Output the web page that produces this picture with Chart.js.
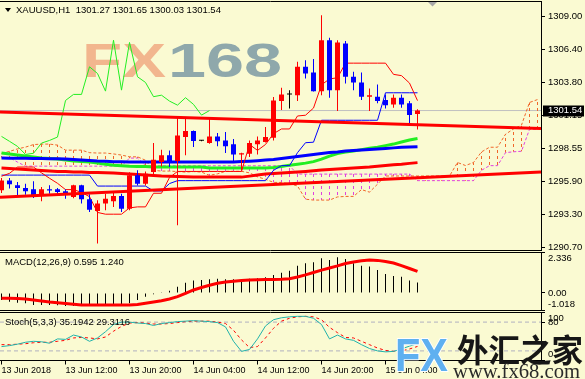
<!DOCTYPE html>
<html><head><meta charset="utf-8">
<script src="https://cdn.jsdelivr.net/npm/chart.js@4.4.1/dist/chart.umd.min.js"></script>
<style>
html,body{margin:0;padding:0;background:#fafad2;width:585px;height:379px;overflow:hidden;position:relative}
canvas{position:absolute;left:0}
</style></head><body>
<canvas id="cMain" width="585" height="252" style="top:0px"></canvas>
<canvas id="cMacd" width="585" height="60" style="top:252px"></canvas>
<canvas id="cStoch" width="585" height="67" style="top:312px"></canvas>
<script>
// ---------------- data ----------------
const symbolTitle = 'XAUUSD,H1  1301.27 1301.65 1300.03 1301.54';
const timeLabels = ['13 Jun 2018','13 Jun 12:00','13 Jun 20:00','14 Jun 04:00','14 Jun 12:00','14 Jun 20:00','15 Jun 04:00'];
const timeLabelBars = [0,8,16,24,32,40,48];
const priceTicks = [1309.00,1306.40,1303.80,1301.15,1298.55,1295.90,1293.30,1290.70];
const lastPrice = 1301.54;

const candleOpen = [1295.21,1296.00,1295.61,1295.39,1295.29,1294.82,1295.29,1295.29,1295.13,1294.68,1295.61,1294.50,1293.57,1294.16,1294.34,1294.76,1293.76,1296.40,1295.74,1296.66,1297.45,1297.99,1297.53,1299.44,1299.91,1299.15,1298.96,1299.49,1299.17,1298.86,1298.06,1298.12,1298.86,1299.04,1299.39,1302.29,1302.82,1302.76,1305.01,1304.56,1303.08,1307.12,1303.16,1306.86,1304.22,1303.77,1302.63,1302.64,1302.37,1302.03,1302.56,1302.11,1301.27];
const candleHigh = [1296.20,1296.19,1295.87,1295.74,1295.93,1295.47,1295.61,1295.40,1295.29,1295.65,1295.65,1294.90,1294.42,1294.95,1295.08,1294.95,1296.64,1296.80,1296.70,1298.96,1298.44,1298.38,1300.97,1300.89,1299.95,1299.20,1300.89,1299.75,1299.83,1299.28,1298.20,1299.17,1299.49,1300.23,1302.61,1303.35,1303.16,1305.41,1305.54,1305.62,1309.10,1307.31,1307.12,1307.05,1304.62,1304.56,1303.29,1303.61,1302.82,1302.82,1302.82,1302.29,1301.65];
const candleLow = [1295.00,1295.35,1294.68,1294.87,1294.60,1294.34,1294.95,1294.85,1294.55,1294.58,1294.16,1293.49,1290.99,1293.63,1293.89,1293.49,1293.63,1295.60,1295.60,1296.40,1297.11,1297.06,1292.44,1297.99,1298.64,1299.10,1298.90,1298.70,1298.17,1297.45,1296.80,1297.85,1298.06,1299.00,1299.17,1301.58,1301.71,1302.29,1304.09,1303.05,1302.76,1302.56,1301.50,1303.69,1303.16,1302.37,1301.50,1302.11,1301.71,1301.77,1301.77,1300.39,1300.03];
const candleClose = [1296.00,1295.69,1295.39,1295.13,1294.82,1295.29,1295.20,1295.08,1294.87,1295.61,1294.50,1293.68,1294.16,1294.55,1294.76,1293.76,1296.40,1295.74,1296.53,1297.64,1297.99,1297.53,1299.57,1299.91,1299.12,1299.15,1299.49,1299.10,1298.70,1298.06,1298.15,1298.96,1299.17,1299.44,1302.34,1302.82,1302.82,1305.01,1304.48,1303.08,1307.12,1303.16,1306.94,1304.22,1303.77,1302.64,1302.76,1302.29,1301.97,1302.56,1302.03,1301.18,1301.54];

const tenkan = [1296.33,1296.56,1297.06,1297.06,1297.06,1296.60,1296.17,1295.77,1295.27,1295.27,1295.05,1294.71,1293.46,1293.32,1293.32,1293.32,1293.82,1293.90,1293.90,1294.98,1294.98,1296.23,1296.71,1296.71,1296.71,1296.71,1296.71,1296.71,1296.71,1296.71,1296.71,1298.85,1298.38,1298.85,1299.71,1300.08,1300.08,1301.11,1301.17,1301.74,1303.58,1304.05,1304.14,1305.30,1305.30,1305.30,1305.30,1305.30,1305.30,1304.41,1304.31,1303.72,1302.33];
const kijun = [1296.42,1296.42,1296.42,1296.42,1296.42,1296.42,1296.42,1296.42,1296.42,1296.42,1296.42,1296.42,1295.55,1295.55,1295.55,1295.55,1295.55,1295.55,1295.55,1295.16,1295.16,1295.75,1295.98,1295.98,1295.98,1295.98,1295.98,1295.98,1295.98,1295.98,1295.98,1295.98,1295.98,1295.98,1296.80,1297.17,1297.17,1298.20,1298.99,1299.03,1300.77,1300.77,1300.77,1300.77,1300.77,1300.77,1300.77,1300.77,1302.95,1302.95,1302.95,1302.95,1302.95];
const chikou = [1299.49,1299.10,1298.70,1298.06,1298.15,1298.96,1299.17,1299.44,1302.34,1302.82,1302.82,1305.01,1304.48,1303.08,1307.12,1303.16,1306.94,1304.22,1303.77,1302.64,1302.76,1302.29,1301.97,1302.56,1302.03,1301.18,1301.54];
const spanA = [1298.14,1298.30,1298.50,1298.64,1298.84,1298.88,1298.88,1298.80,1298.40,1298.40,1298.40,1298.20,1298.17,1298.17,1298.10,1298.01,1297.87,1297.87,1297.60,1296.80,1296.74,1296.74,1296.70,1296.66,1296.70,1296.66,
 1296.40,1296.52,1296.72,1296.72,1296.72,1296.60,1296.28,1296.09,1295.84,1295.84,1295.73,1295.56,1294.51,1294.44,1294.44,1294.44,1294.69,1294.73,1294.73,1295.27,1295.07,1295.70,1296.35,1296.35,1296.35,1296.35,1296.35,1296.35,1296.35,1296.35,1296.35,1297.42,1297.18,1297.42,1298.26,1298.63,1298.63,1299.66,1300.08,1300.39,1302.18,1302.41];
const spanB = [1297.82,1297.82,1297.45,1297.13,1297.13,1297.13,1297.13,1297.13,1297.13,1297.13,1297.13,1297.13,1297.13,1297.13,1297.13,1297.13,1297.77,1297.77,
 1297.16,1297.16,1297.16,1297.16,1297.16,1297.16,1297.16,1297.16,1297.16,1297.16,1297.16,1297.16,1297.16,1297.16,1297.16,1297.16,1297.16,1297.16,1297.16,
 1296.50,1296.50,1296.50,1296.50,1296.50,1296.50,1296.50,1296.50,1296.50,1296.50,1296.50,1296.50,1296.50,1296.50,1296.50,
 1295.98,1295.98,1295.98,1295.98,1295.98,1295.98,1295.98,1295.98,1296.80,1297.17,1297.17,1298.20,1298.27,1298.31,1300.05,1300.05];
const maBlue = [1297.77,1297.76,1297.75,1297.75,1297.74,1297.73,1297.72,1297.71,1297.69,1297.65,1297.61,1297.57,1297.53,1297.51,1297.48,1297.47,1297.45,1297.45,1297.45,1297.45,1297.45,1297.45,1297.45,1297.45,1297.45,1297.45,1297.45,1297.45,1297.45,1297.45,1297.49,1297.52,1297.56,1297.61,1297.65,1297.73,1297.81,1297.89,1297.97,1298.05,1298.13,1298.21,1298.26,1298.33,1298.38,1298.42,1298.46,1298.50,1298.54,1298.58,1298.62,1298.64,1298.67];
const maGreen = [1298.17,1298.09,1298.01,1297.93,1297.85,1297.77,1297.73,1297.69,1297.61,1297.53,1297.49,1297.45,1297.37,1297.29,1297.21,1297.17,1297.13,1297.11,1297.10,1297.06,1297.06,1297.06,1297.06,1297.06,1297.06,1297.06,1296.98,1296.98,1296.98,1296.98,1296.98,1296.98,1296.98,1296.98,1297.02,1297.10,1297.21,1297.29,1297.37,1297.49,1297.69,1297.93,1298.13,1298.25,1298.33,1298.44,1298.56,1298.64,1298.76,1298.88,1299.04,1299.20,1299.32];
const maRed = [1296.98,1296.94,1296.90,1296.86,1296.82,1296.78,1296.74,1296.71,1296.70,1296.67,1296.66,1296.63,1296.62,1296.60,1296.58,1296.54,1296.50,1296.46,1296.42,1296.38,1296.34,1296.32,1296.30,1296.28,1296.26,1296.26,1296.26,1296.26,1296.26,1296.26,1296.26,1296.34,1296.42,1296.50,1296.54,1296.58,1296.62,1296.66,1296.71,1296.77,1296.82,1296.86,1296.90,1296.94,1296.98,1297.02,1297.06,1297.13,1297.19,1297.25,1297.29,1297.35,1297.41];
const trendTop = [1301.42, 1300.11];
const trendBottom = [1294.67, 1296.66];

const macdHist = [-0.41,-0.51,-0.57,-0.60,-0.70,-0.70,-0.70,-0.72,-0.76,-0.76,-0.76,-0.76,-0.76,-0.76,-0.76,-0.76,-0.60,-0.41,-0.22,-0.08,0.01,0.13,0.36,0.59,0.71,0.75,0.79,0.82,0.79,0.79,0.79,0.82,0.84,0.90,1.04,1.17,1.28,1.57,1.71,1.77,2.00,1.90,2.06,1.96,1.71,1.57,1.52,1.32,1.09,0.98,0.94,0.71,0.595];
const macdSignal = [-0.31,-0.31,-0.32,-0.35,-0.41,-0.47,-0.53,-0.57,-0.61,-0.66,-0.70,-0.70,-0.70,-0.70,-0.70,-0.70,-0.70,-0.67,-0.60,-0.53,-0.45,-0.35,-0.22,-0.03,0.17,0.31,0.44,0.56,0.63,0.68,0.71,0.75,0.76,0.77,0.78,0.79,0.82,0.92,1.04,1.18,1.32,1.44,1.56,1.70,1.79,1.86,1.90,1.88,1.82,1.73,1.58,1.41,1.24];
const macdTicks = [-1.018, 0, 2.336];
const macdTickText = ['-1.018','0.00','2.336'];
const macdTitle = 'MACD(12,26,9) 0.595 1.240';

const stochMain = [29,31,34,38,40,39,36,45,44,53,49,40,47,60,75,80,80,78,77,73,77,79,81,82,83,82,81,79,70,40,19,23,45,72,85,89,91,92,92,88,75,45,53,45,42,33,25,20,18,19,24,30,35.19];
const stochSignal = [33,33,34,35,37,38,38,40,42,47,48,47,45,49,61,71,78,79,78,76,76,77,79,81,82,82,82,80,77,63,43,27,29,47,67,82,88,91,92,91,85,69,58,48,47,40,33,26,21,19,20,24,29.31];
const stochLevels = [80, 20];
const stochTicks = [0, 80, 100];
const stochTickText = ['0','80','100'];
const stochTitle = 'Stoch(5,3,3) 35.1942 29.3116';

// ---------------- setup ----------------
const FONT = '"Liberation Sans", Arial, sans-serif';
Chart.defaults.font.family = FONT;
Chart.defaults.font.size = 9.5;
Chart.defaults.color = '#000';
const xMin = -0.1875, xMax = 67.4375;
const pts = arr => arr.map((v, i) => ({x: i, y: v}));
const candleColor = i => candleClose[i] > candleOpen[i] ? '#ff0000' : (candleClose[i] < candleOpen[i] ? '#0000ff' : '#000000');

function hatch(color) {
  const c = document.createElement('canvas'); c.width = 1; c.height = 6;
  const g = c.getContext('2d'); g.fillStyle = color; g.fillRect(0, 0, 1, 3);
  return g.createPattern(c, 'repeat');
}
const hatchUp = hatch('#f0662a');
const hatchDown = hatch('#e040e0');

function xAxis(show) {
  return {
    type: 'linear', min: xMin, max: xMax, offset: false, display: show,
    position: 'bottom',
    grid: {drawOnChartArea: false, drawTicks: true, tickLength: 4, color: '#000', offset: false},
    border: {display: true, color: '#000'},
    afterBuildTicks: s => { s.ticks = timeLabelBars.map(v => ({value: v})); },
    ticks: {autoSkip: false, maxRotation: 0, minRotation: 0, align: 'start', padding: 1,
      font: {size: 9}, callback: v => timeLabels[timeLabelBars.indexOf(v)]},
    afterFit: s => { s.height = show ? 18.5 : 0; s.paddingLeft = 0; s.paddingRight = 0; }
  };
}
function yAxis(min, max, ticksFn, labelFn) {
  return {
    type: 'linear', position: 'right', min: min, max: max,
    grid: {drawOnChartArea: false, drawTicks: true, tickLength: 4, color: '#000'},
    border: {display: true, color: '#000'},
    afterBuildTicks: s => { s.ticks = ticksFn().map(v => ({value: v})); },
    ticks: {autoSkip: false, padding: 3, callback: labelFn},
    afterFit: s => { s.width = 44; s.paddingTop = 0; s.paddingBottom = 0; }
  };
}
function frame(chart) {
  const a = chart.chartArea, ctx = chart.ctx;
  ctx.save(); ctx.strokeStyle = '#000'; ctx.lineWidth = 1;
  ctx.beginPath();
  ctx.moveTo(a.left, Math.floor(a.top) + 0.5); ctx.lineTo(a.right, Math.floor(a.top) + 0.5);
  ctx.moveTo(a.left, Math.floor(a.bottom) + 0.5); ctx.lineTo(a.right, Math.floor(a.bottom) + 0.5);
  ctx.stroke(); ctx.restore();
}
function stretchText(ctx, text, x, base, width, font, fill, stroke, sw) {
  ctx.save(); ctx.font = font;
  const w = ctx.measureText(text).width;
  ctx.translate(x, base); ctx.scale(width / w, 1);
  if (stroke) { ctx.lineWidth = sw; ctx.strokeStyle = stroke; ctx.lineJoin = 'round'; ctx.strokeText(text, 0, 0); }
  ctx.fillStyle = fill; ctx.fillText(text, 0, 0);
  ctx.restore();
}
const lineDS = (label, data, color, width, order, dash) => ({
  type: 'line', label, data, borderColor: color, borderWidth: width, pointRadius: 0,
  tension: 0, fill: false, order, borderDash: dash || [], borderCapStyle: 'butt', clip: 4
});

// ---------------- main chart ----------------
new Chart(document.getElementById('cMain'), {
  type: 'bar',
  data: { datasets: [
    lineDS('trendTop', [{x: xMin, y: trendTop[0]}, {x: xMax, y: trendTop[1]}], '#ff0000', 3, 1),
    lineDS('trendBottom', [{x: xMin, y: trendBottom[0]}, {x: xMax, y: trendBottom[1]}], '#ff0000', 3, 1),
    {type: 'bar', label: 'body', data: candleOpen.map((o, i) => ({x: i, y: [o, candleClose[i]]})),
     backgroundColor: c => candleColor(c.dataIndex), barThickness: 5, minBarLength: 1, grouped: false, inflateAmount: 0, order: 2},
    {type: 'bar', label: 'wick', data: candleLow.map((l, i) => ({x: i, y: [l, candleHigh[i]]})),
     backgroundColor: c => candleColor(c.dataIndex), barThickness: 1, grouped: false, inflateAmount: 0, order: 3},
    lineDS('tenkan', pts(tenkan), '#ff0000', 1, 4),
    lineDS('kijun', pts(kijun), '#0000ff', 1, 4),
    lineDS('maRed', pts(maRed), '#ff0000', 3, 5),
    lineDS('maBlue', pts(maBlue), '#0000ff', 3, 5),
    lineDS('maGreen', pts(maGreen), '#22ee22', 3, 5),
    lineDS('chikou', pts(chikou), '#22ee22', 1, 6),
    lineDS('spanA', pts(spanA), '#f0662a', 1, 7, [3, 2]),
    lineDS('spanB', pts(spanB), '#e040e0', 1, 7, [3, 2]),
    {type: 'bar', label: 'kumo', data: spanA.map((a, i) => ({x: i, y: [a, spanB[i]]})),
     backgroundColor: c => (spanA[c.dataIndex] >= spanB[c.dataIndex] ? hatchUp : hatchDown),
     barThickness: 1, grouped: false, inflateAmount: 0, order: 8},
    lineDS('last', [{x: xMin, y: lastPrice}, {x: xMax, y: lastPrice}], '#c0c0c0', 1, 9)
  ]},
  options: {
    responsive: false, animation: false, devicePixelRatio: 1,
    layout: {padding: {top: 1.5, bottom: 1.5, left: 0, right: 0}},
    plugins: {legend: {display: false}, tooltip: {enabled: false}},
    scales: { x: xAxis(false), y: yAxis(1290.44, 1310.19, () => priceTicks, v => v.toFixed(2)) }
  },
  plugins: [{
    id: 'mainDeco',
    beforeDatasetsDraw(chart) {
      const ctx = chart.ctx;
      stretchText(ctx, 'FX', 82, 77, 84, 'bold 48px ' + FONT, '#f2b68e');
      stretchText(ctx, '168', 168, 77, 114, 'bold 48px ' + FONT, '#8fa8ab');
    },
    afterDraw(chart) {
      const ctx = chart.ctx, ys = chart.scales.y;
      frame(chart);
      ctx.save();
      ctx.fillStyle = '#000';
      ctx.beginPath(); ctx.moveTo(5, 8); ctx.lineTo(11, 8); ctx.lineTo(8, 12); ctx.closePath(); ctx.fill();
      ctx.font = '9.5px ' + FONT; ctx.textBaseline = 'alphabetic';
      ctx.fillText(symbolTitle, 16, 13);
      ctx.fillStyle = '#a8a8a8';
      ctx.beginPath(); ctx.moveTo(428, 2); ctx.lineTo(437, 2); ctx.lineTo(432.5, 6.5); ctx.closePath(); ctx.fill();
      const py = ys.getPixelForValue(lastPrice);
      ctx.fillStyle = '#000'; ctx.fillRect(543, Math.round(py) - 5.5, 41, 11);
      ctx.fillStyle = '#fff'; ctx.textBaseline = 'middle';
      ctx.fillText(lastPrice.toFixed(2), 548, py);
      ctx.restore();
    }
  }]
});

// ---------------- MACD ----------------
new Chart(document.getElementById('cMacd'), {
  type: 'bar',
  data: { datasets: [
    lineDS('signal', pts(macdSignal), '#ff0000', 3, 1),
    {type: 'bar', label: 'macd', data: pts(macdHist), backgroundColor: '#000', barThickness: 1, grouped: false, inflateAmount: 0, order: 2}
  ]},
  options: {
    responsive: false, animation: false, devicePixelRatio: 1,
    layout: {padding: {top: 0.5, bottom: 1.5, left: 0, right: 0}},
    plugins: {legend: {display: false}, tooltip: {enabled: false}},
    scales: { x: xAxis(false), y: yAxis(-1.018, 2.336, () => macdTicks, v => {
      const t = macdTickText[macdTicks.indexOf(v)];
      if (v === macdTicks[macdTicks.length - 1]) return ['', t];
      if (v === macdTicks[0]) return [t, ''];
      return t; }) }
  },
  plugins: [{
    id: 'macdDeco',
    afterDraw(chart) {
      frame(chart);
      const ctx = chart.ctx; ctx.save();
      ctx.fillStyle = '#000'; ctx.font = '9.5px ' + FONT; ctx.textBaseline = 'middle';
      ctx.fillText(macdTitle, 5, 10);
      ctx.restore();
    }
  }]
});

// ---------------- Stochastic ----------------
new Chart(document.getElementById('cStoch'), {
  type: 'line',
  data: { datasets: [
    lineDS('main', pts(stochMain), '#20b2aa', 1, 1),
    lineDS('signal', pts(stochSignal), '#ff0000', 1, 2, [3, 3]),
    lineDS('l80', [{x: xMin, y: stochLevels[0]}, {x: xMax, y: stochLevels[0]}], '#b0b0c0', 1, 3, [4, 3]),
    lineDS('l20', [{x: xMin, y: stochLevels[1]}, {x: xMax, y: stochLevels[1]}], '#b0b0c0', 1, 3, [4, 3])
  ]},
  options: {
    responsive: false, animation: false, devicePixelRatio: 1,
    layout: {padding: {top: 0.5, bottom: 0, left: 0, right: 0}},
    plugins: {legend: {display: false}, tooltip: {enabled: false}},
    scales: { x: xAxis(true), y: yAxis(0, 100, () => stochTicks, v => {
      const t = stochTickText[stochTicks.indexOf(v)];
      if (v === 100) return ['', t];
      if (v === 0) return [t, ''];
      return t; }) }
  },
  plugins: [{
    id: 'stochDeco',
    afterDraw(chart) {
      frame(chart);
      const ctx = chart.ctx; ctx.save();
      ctx.fillStyle = '#000'; ctx.font = '9.5px ' + FONT; ctx.textBaseline = 'middle';
      ctx.fillText(stochTitle, 5, 10);
      const g = ctx.createLinearGradient(0, 13, 0, 46);
      g.addColorStop(0, '#5fb0f0'); g.addColorStop(1, '#1f6cc4');
      stretchText(ctx, 'FX', 395, 46, 53, 'bold 46px ' + FONT, g, '#ffffff', 2);
      stretchText(ctx, '外汇之家', 457, 38, 126, 'bold 32px "Noto Sans CJK SC"', '#161616');
      stretchText(ctx, 'www.fx68.com', 453, 61, 127, '20px "Liberation Serif"', '#2a2a2a');
      ctx.restore();
    }
  }]
});
</script>
</body></html>
